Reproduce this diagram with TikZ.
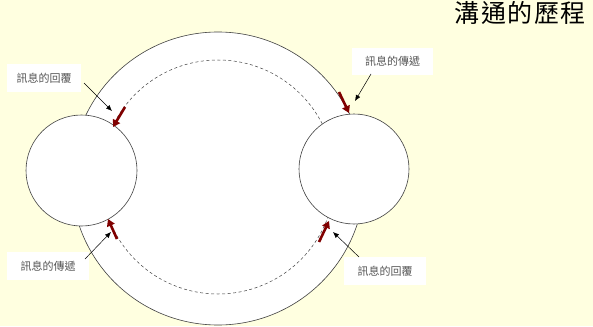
\documentclass[tikz,border=0pt]{standalone}
\usepackage{fontspec}
\newfontfamily\cjk{Noto Sans CJK TC}
\newfontfamily\cjktitle[LetterSpace=6]{Noto Sans CJK TC}
\usetikzlibrary{arrows.meta}
\definecolor{bg}{RGB}{255,255,224}
\definecolor{darkred}{RGB}{128,0,0}
\definecolor{labgray}{RGB}{85,85,85}
\begin{document}
\begin{tikzpicture}[x=1pt,y=-1pt,
 circ/.style={circle,draw=black!75,fill=white,line width=0.6pt,inner sep=0pt},
 lab/.style={fill=white,text=labgray,font=\cjk\fontsize{11pt}{13pt}\selectfont,inner sep=0pt,minimum height=28pt,minimum width=80pt},
 redarr/.style={draw=darkred,line width=2.6pt,-{Triangle[width=8pt,length=7pt]}},
 blkarr/.style={draw=black,line width=0.5pt,-{Latex[width=5pt,length=6pt]}}]
\fill[bg] (0,0) rectangle (593,326);
\useasboundingbox (0,0) rectangle (593,326);
\node[circ,minimum size=293pt] (big) at (218,178.5) {};
\draw[black!75,line width=0.5pt,dash pattern=on 3pt off 2.5pt] (218,177) circle[radius=117pt];
\node[circ,minimum size=111pt] (left) at (81.5,170.5) {};
\node[circ,minimum size=110pt] (right) at (354,169) {};
\node[font=\cjktitle\fontsize{25pt}{28pt}\selectfont,inner sep=0pt] (title) at (520,13) {溝通的歷程};
% red arrows
\coordinate (tlS) at (125,107); \coordinate (tlE) at (113,127);
\coordinate (trS) at (339,92);  \coordinate (trE) at (349,113);
\coordinate (blS) at (117,239); \coordinate (blE) at (108,219);
\coordinate (brS) at (319,242); \coordinate (brE) at (329,221);
\draw[redarr] (tlS) -- (tlE);
\draw[redarr] (trS) -- (trE);
\draw[redarr] (blS) -- (blE);
\draw[redarr] (brS) -- (brE);
% labels
\node[lab,minimum width=74pt] (l1) at (44,78) {訊息的回覆};
\node[lab,minimum width=81pt,minimum height=27pt] (l2) at (392.5,61.5) {訊息的傳遞};
\node[lab,minimum width=82pt] (l3) at (48,266) {訊息的傳遞};
\node[lab,minimum width=82pt] (l4) at (385,271) {訊息的回覆};
\coordinate (a1S) at (84,83);  \coordinate (a1E) at (112,111);
\coordinate (a2S) at (371,74); \coordinate (a2E) at (355,101);
\coordinate (a3S) at (85,259); \coordinate (a3E) at (111,232);
\coordinate (a4S) at (359,257);\coordinate (a4E) at (333,232);
\draw[blkarr] (a1S) -- (a1E);
\draw[blkarr] (a2S) -- (a2E);
\draw[blkarr] (a3S) -- (a3E);
\draw[blkarr] (a4S) -- (a4E);
\end{tikzpicture}
\end{document}
